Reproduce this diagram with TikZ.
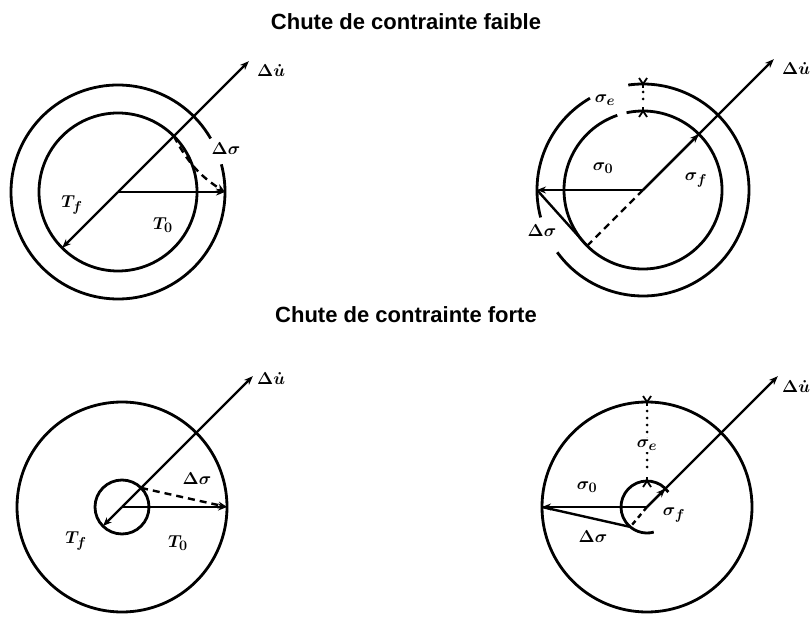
\documentclass[tikz,border=0pt]{standalone}
\usepackage{fontspec}
\newfontfamily\titlefont{Liberation Sans}
\usetikzlibrary{arrows.meta,calc}
\begin{document}
\begin{tikzpicture}[x=1pt,y=1pt,
  circ/.style={line width=2.8pt},
  ray/.style={line width=2.4pt},
  tip/.style={-{Stealth[length=9pt,width=7pt]}},
  dsh/.style={line width=2.4pt,dash pattern=on 7pt off 5pt},
  dots/.style={line width=3pt,dash pattern=on 0pt off 7pt,line cap=round},
  tick/.style={line width=1.8pt},
  lab/.style={font=\fontsize{19}{22}\selectfont\boldmath,inner sep=0pt},
  dulab/.style={font=\fontsize{17}{20}\selectfont\boldmath,inner sep=0pt,anchor=west},
  ttl/.style={font=\titlefont\bfseries\fontsize{22}{26}\selectfont,inner sep=0pt}]
\useasboundingbox (0,0) rectangle (810,-617);

% titles
\node[ttl] (t1) at (406,-22) {Chute de contrainte faible};
\node[ttl] (t2) at (406,-315) {Chute de contrainte forte};

% ---------- top left ----------
\coordinate (c1) at (118,-192);
\coordinate (du1) at ($(c1)+(45:185)$);
\coordinate (tf1) at ($(c1)+(225:79)$);
\coordinate (te1) at ($(c1)+(0:107)$);
\coordinate (in1) at ($(c1)+(45:79)$);
\draw[circ] (c1) circle[radius=79];
\draw[circ] (c1) ++(30:107) arc[start angle=30,end angle=375,radius=107];
\draw[ray,tip] (c1) -- (du1);
\draw[ray,tip] (c1) -- (tf1);
\draw[ray,tip] (c1) -- (te1);
\draw[dsh,tip] (in1) to[bend right=15] (te1);
\node[dulab] (du1l) at (257,-71) {$\Delta\dot u$};
\node[lab] (ds1l) at (226,-149) {$\Delta\sigma$};
\node[lab] (tf1l) at (72,-205) {$T_f$};
\node[lab] (to1l) at (163,-225) {$T_0$};

% ---------- top right ----------
\coordinate (c2) at (643,-190);
\coordinate (du2) at ($(c2)+(45:185)$);
\coordinate (f2) at ($(c2)+(45:79)$);
\coordinate (l2) at ($(c2)+(180:106)$);
\coordinate (p2) at ($(c2)+(225:79)$);
\coordinate (o2) at ($(c2)+(90:106)$);
\coordinate (i2) at ($(c2)+(90:79)$);
\draw[circ] (c2) ++(-144:106) arc[start angle=-144,end angle=98,radius=106];
\draw[circ] (c2) ++(120:106) arc[start angle=120,end angle=195,radius=106];
\draw[circ] (c2) ++(109:79) arc[start angle=109,end angle=462,radius=79];
\draw[tick] ($(o2)+(-4,6)$) -- (o2) -- ($(o2)+(4,6)$);
\draw[tick] (o2) -- ++(0,-4);
\draw[tick] ($(i2)+(-4,-6)$) -- (i2) -- ($(i2)+(4,-6)$);
\draw[tick] (i2) -- ++(0,4);
\draw[dots] ($(o2)+(0,-8)$) -- ($(i2)+(0,8)$);
\draw[ray,tip] (c2) -- (du2);
\draw[ray,tip] (c2) -- (f2);
\draw[ray,tip] (c2) -- (l2);
\draw[ray] (l2) -- (p2);
\draw[dsh] (c2) -- (p2);
\node[dulab] (du2l) at (782,-69) {$\Delta\dot u$};
\node[lab] (se2l) at (605,-100) {$\sigma_e$};
\node[lab] (so2l) at (603,-168) {$\sigma_0$};
\node[lab] (sf2l) at (696,-180) {$\sigma_f$};
\node[lab] (ds2l) at (542,-231) {$\Delta\sigma$};

% ---------- bottom left ----------
\coordinate (c3) at (122,-507);
\coordinate (du3) at ($(c3)+(45:185)$);
\coordinate (tf3) at ($(c3)+(225:27)$);
\coordinate (te3) at ($(c3)+(0:105)$);
\coordinate (in3) at ($(c3)+(45:27)$);
\draw[circ] (c3) circle[radius=105];
\draw[circ] (c3) circle[radius=27];
\draw[ray,tip] (c3) -- (du3);
\draw[ray,tip] (c3) -- (tf3);
\draw[ray,tip] (c3) -- (te3);
\draw[dsh,tip] (in3) -- (te3);
\node[dulab] (du3l) at (257,-378) {$\Delta\dot u$};
\node[lab] (ds3l) at (197,-479) {$\Delta\sigma$};
\node[lab] (tf3l) at (76,-541) {$T_f$};
\node[lab] (to3l) at (178,-543) {$T_0$};

% ---------- bottom right ----------
\coordinate (c4) at (647,-507);
\coordinate (du4) at ($(c4)+(45:185)$);
\coordinate (f4) at ($(c4)+(45:26)$);
\coordinate (l4) at ($(c4)+(180:105)$);
\coordinate (p4) at ($(c4)+(230:26)$);
\coordinate (o4) at ($(c4)+(90:105)$);
\coordinate (i4) at ($(c4)+(90:26)$);
\draw[circ] (c4) circle[radius=105];
\draw[circ] (c4) ++(35:26) arc[start angle=35,end angle=285,radius=26];
\draw[dots] ($(o4)+(0,-9)$) -- ($(i4)+(0,9)$);
\draw[tick] ($(o4)+(-4,6)$) -- (o4) -- ($(o4)+(4,6)$);
\draw[tick] (o4) -- ++(0,-4);
\draw[tick] ($(i4)+(-4,-6)$) -- (i4) -- ($(i4)+(4,-6)$);
\draw[tick] (i4) -- ++(0,4);
\draw[ray,tip] (c4) -- (du4);
\draw[ray,tip] (c4) -- (f4);
\draw[ray,tip] (c4) -- (l4);
\draw[ray] (l4) -- (p4);
\draw[line width=2.4pt,dash pattern=on 5pt off 4pt] (c4) -- (p4);
\node[dulab] (du4l) at (782,-386) {$\Delta\dot u$};
\node[lab,fill=white,inner sep=2pt] (se4l) at (647,-445) {$\sigma_e$};
\node[lab] (so4l) at (587,-487) {$\sigma_0$};
\node[lab] (sf4l) at (674,-515) {$\sigma_f$};
\node[lab] (ds4l) at (593,-537) {$\Delta\sigma$};
\end{tikzpicture}
\end{document}
